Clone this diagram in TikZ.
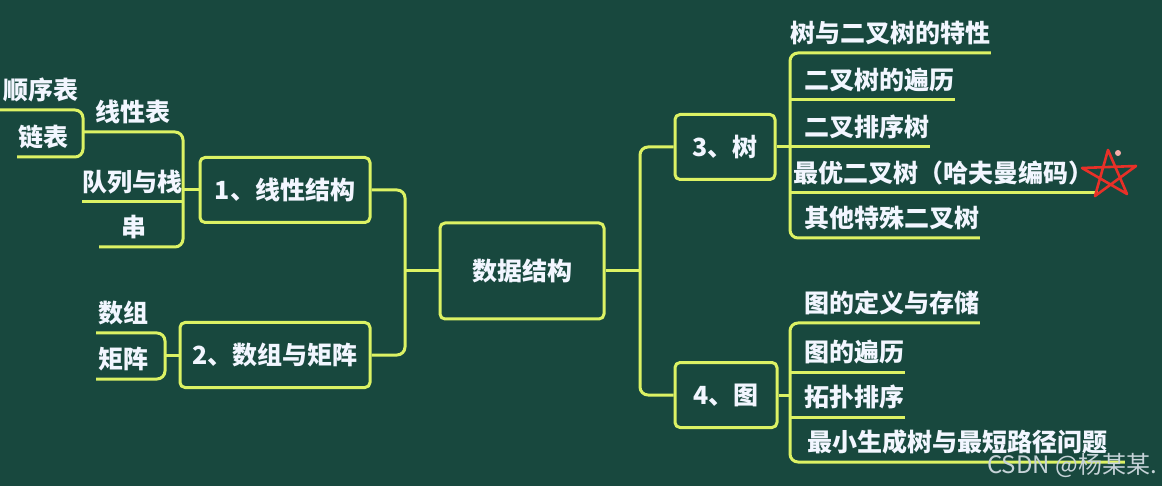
\documentclass[tikz,border=0pt]{standalone}
\usepackage{fontspec}
\newfontfamily\cjk{Noto Sans CJK SC}
\definecolor{board}{RGB}{24,72,62}
\definecolor{chalk}{RGB}{220,242,100}
\definecolor{ink}{RGB}{242,246,255}
\definecolor{starred}{RGB}{232,48,40}
\begin{document}
\begin{tikzpicture}
[x=0.5pt,y=-0.5pt,line join=round,every node/.style={font=\cjk\bfseries\fontsize{12.5}{14}\selectfont,text=ink},topic/.style={draw=chalk,line width=1.5pt,rounded corners=2.5pt,minimum height=32.5pt,align=center},leafr/.style={anchor=south west,inner xsep=0pt,inner ysep=2pt,text depth=3.2pt,minimum width=#1},leafl/.style={anchor=south east,inner xsep=0pt,inner ysep=2pt,text depth=3.2pt,minimum width=#1},padr/.style={execute at begin node={\hspace*{7pt}}},padl/.style={execute at end node={\hspace*{7pt}}},link/.style={draw=chalk,line width=1.5pt,rounded corners=4pt},]
\fill[board] (0,0) rectangle (1162,486);
\useasboundingbox (0,0) rectangle (1162,486);
\node[topic,minimum width=82pt,minimum height=48pt] (root) at (522,271) {数据结构};
\node[topic,minimum width=85pt] (lin) at (285,190) {1、线性结构};
\node[topic,minimum width=95pt] (arr) at (275,355) {2、数组与矩阵};
\node[topic,minimum width=50pt] (tree) at (725,147) {3、树};
\node[topic,minimum width=51pt] (graph) at (726,395) {4、图};
\node[leafl=50pt] (lin1) at (183,132) {线性表};
\node[leafl=49pt] (lin2) at (183,202) {队列与栈};
\node[leafl=41.5pt,padl] (lin3) at (183,247) {串};
\node[leafl=41.5pt] (lin11) at (83,110) {顺序表};
\node[leafl=32.5pt,padl] (lin12) at (83,157) {链表};
\node[leafl=34pt,padl] (arr1) at (165,333) {数组};
\node[leafl=34pt,padl] (arr2) at (165,379) {矩阵};
\node[leafr=96.5pt] (tree1) at (790,53) {树与二叉树的特性};
\node[leafr=77.5pt,padr] (tree2) at (790,100) {二叉树的遍历};
\node[leafr=68.5pt,padr] (tree3) at (790,147) {二叉排序树};
\node[leafr=153.5pt] (tree4) at (790,193) {最优二叉树（哈夫曼编码）};
\node[leafr=86.5pt,padr] (tree5) at (790,238) {其他特殊二叉树};
\node[leafr=93.5pt,padr] (graph1) at (790,323) {图的定义与存储};
\node[leafr=49pt,padr] (graph2) at (790,372) {图的遍历};
\node[leafr=49pt,padr] (graph3) at (790,417) {拓扑排序};
\node[leafr=167pt] (graph4) at (790,462) {最小生成树与最短路径问题};
\coordinate (lj) at (405,271);
\coordinate (rj) at (640,271);
\draw[link] (lin.east) -| (lj) |- (arr.east);
\draw[link] (root.west) -- (lj);
\draw[link] (tree.west) -| (rj) |- (graph.west);
\draw[link] (root.east) -- (rj);
\draw[link] (lin1.south west) -- (lin1.south east) -- (lin3.south east) -- (lin3.south west);
\draw[link] (lin2.south west) -- (lin2.south east);
\draw[link] (lin.west) -- (lin.west -| lin1.south east);
\draw[link] (lin11.south west) -- (lin11.south east) -- (lin12.south east) -- (lin12.south west);
\draw[link] (arr1.south west) -- (arr1.south east) -- (arr2.south east) -- (arr2.south west);
\draw[link] (arr.west) -- (arr.west -| arr1.south east);
\draw[link] (tree1.south east) -- (tree1.south west) -- (tree5.south west) -- (tree5.south east);
\draw[link] (tree.east) -- (tree3.south west) -- (tree3.south east);
\draw[link] (tree2.south west) -- (tree2.south east);
\draw[link] (tree4.south west) -- (tree4.south east);
\draw[link] (graph1.south east) -- (graph1.south west) -- (graph4.south west) -- (graph4.south east);
\draw[link] (graph2.south west) -- (graph2.south east);
\draw[link] (graph3.south west) -- (graph3.south east);
\draw[link] (graph.east) -- (graph.east -| graph1.south west);
\draw[starred,line width=1.3pt] (1108,150) -- (1095,196) -- (1136,166) -- (1082,168) -- (1127,194) -- cycle;
\fill[starred!40!white] (1118,153) circle (1.5pt);
\node[font=\cjk\fontsize{12}{14}\selectfont,text=ink!80!board] (wm) at (1072,465) {CSDN @杨某某.};
\end{tikzpicture}
\end{document}
